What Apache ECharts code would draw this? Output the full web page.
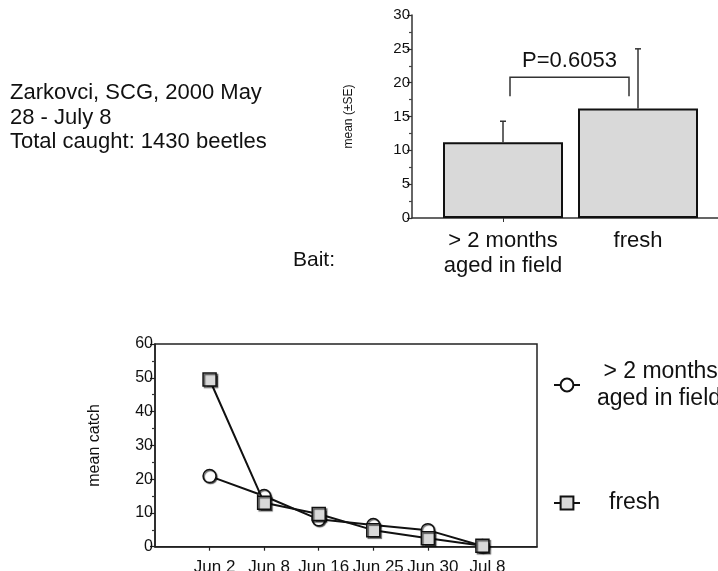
<!DOCTYPE html>
<html>
<head>
<meta charset="utf-8">
<script src="https://cdn.jsdelivr.net/npm/echarts@6/dist/echarts.min.js"></script>
<style>
html,body{margin:0;padding:0;background:#fff;}
#c{width:718px;height:571px;}
</style>
</head>
<body>
<div id="c"></div>
<script>
// ---- data ----
const titleLines = ['Zarkovci, SCG, 2000 May', '28 - July 8', 'Total caught: 1430 beetles'];
const baitLabel = 'Bait:';
const baitCategories = ['> 2 months\naged in field', 'fresh'];
const baitMeans = [11.2, 16.2];
const baitUpperSE = [14.3, 25.0];
const pLabel = 'P=0.6053';
const bracketTop = 20.8;
const bracketLegEnd = 18.0;
const barYTicks = [0, 30, 5];

const dates = ['Jun 2', 'Jun 8', 'Jun 16', 'Jun 25', 'Jun 30', 'Jul 8'];
const agedCatch = [20.9, 15.0, 8.1, 6.4, 4.9, 0.2];
const freshCatch = [49.5, 13.0, 9.7, 4.9, 2.5, 0.3];
const agedName = '> 2 months aged in field';
const freshName = 'fresh';
const lineYTicks = [0, 60, 10];

// ---- chart ----
const FONT = 'Liberation Sans, Arial, sans-serif';
const INK = '#111';
const chart = echarts.init(document.getElementById('c'), null, {renderer: 'canvas'});

const paddedDates = [''].concat(dates, ['']);
const pad = arr => ['-'].concat(arr, ['-']);

const errData = baitMeans.map((m, i) => [i, m, baitUpperSE[i]]);

const option = {
  backgroundColor: '#fff',
  animation: false,
  textStyle: {fontFamily: FONT, color: INK},
  title: [
    {text: titleLines.join('\n'), left: 10, top: 81, padding: 0,
     textStyle: {fontSize: 22, lineHeight: 24.5, fontWeight: 'normal', color: INK, fontFamily: FONT}},
    {text: baitLabel, left: 293, top: 248, padding: 0,
     textStyle: {fontSize: 21, lineHeight: 24, fontWeight: 'normal', color: INK, fontFamily: FONT}}
  ],
  grid: [
    {left: 412, top: 15, width: 306, height: 203, containLabel: false, outerBoundsMode: 'none'},
    {left: 435.5, top: 15, width: 270, height: 203, containLabel: false, outerBoundsMode: 'none'},
    {left: 155, top: 344, width: 382, height: 202.7, containLabel: false, outerBoundsMode: 'none',
     show: true, borderColor: '#222', borderWidth: 1.5, backgroundColor: 'transparent'}
  ],
  xAxis: [
    {gridIndex: 0, type: 'category', data: [''],
     axisLine: {show: true, lineStyle: {color: '#333', width: 1.5}},
     axisTick: {show: false}, axisLabel: {show: false}, splitLine: {show: false}},
    {gridIndex: 1, type: 'category', data: baitCategories,
     axisLine: {show: false},
     axisTick: {show: true, alignWithLabel: true, length: 4, interval: (i) => i === 0,
                lineStyle: {color: '#333', width: 1}},
     axisLabel: {fontSize: 22, lineHeight: 25, margin: 10, color: INK, fontFamily: FONT,
                 interval: 0, hideOverlap: false},
     splitLine: {show: false}},
    {gridIndex: 2, type: 'category', data: paddedDates, boundaryGap: false,
     axisLine: {show: true, lineStyle: {color: '#222', width: 1.5}},
     axisTick: {show: true, length: 4, interval: (i) => i > 0 && i < paddedDates.length - 1,
                lineStyle: {color: '#222', width: 1.2}},
     axisLabel: {fontSize: 17, margin: 12, color: INK, fontFamily: FONT, interval: 0,
                 hideOverlap: false, padding: [0, 0, 0, 10]},
     splitLine: {show: false}}
  ],
  yAxis: [
    {gridIndex: 0, type: 'value', min: barYTicks[0], max: barYTicks[1], interval: barYTicks[2],
     name: 'mean (±SE)', nameLocation: 'middle', nameGap: 57, nameRotate: 90,
     nameTextStyle: {fontSize: 12, color: INK, fontFamily: FONT},
     axisLine: {show: true, lineStyle: {color: '#333', width: 1.5}},
     axisTick: {show: true, length: 5, lineStyle: {color: '#333', width: 1.2}},
     minorTick: {show: true, splitNumber: 2, length: 3, lineStyle: {color: '#444', width: 1.2}},
     axisLabel: {fontSize: 15, margin: 2, color: INK, fontFamily: FONT},
     splitLine: {show: false}},
    {gridIndex: 1, type: 'value', min: barYTicks[0], max: barYTicks[1], interval: barYTicks[2],
     show: false},
    {gridIndex: 2, type: 'value', min: lineYTicks[0], max: lineYTicks[1], interval: lineYTicks[2],
     name: 'mean catch', nameLocation: 'middle', nameGap: 52, nameRotate: 90,
     nameTextStyle: {fontSize: 16, color: INK, fontFamily: FONT},
     axisLine: {show: true, lineStyle: {color: '#222', width: 1.5}},
     axisTick: {show: true, length: 5, lineStyle: {color: '#222', width: 1.2}},
     minorTick: {show: true, splitNumber: 2, length: 3, lineStyle: {color: '#333', width: 1.2}},
     axisLabel: {fontSize: 16, margin: 2, color: INK, fontFamily: FONT},
     splitLine: {show: false}}
  ],
  legend: [
    {data: [agedName], left: 553, top: 358, padding: 0, itemWidth: 26, itemHeight: 16,
     formatter: () => ' > 2 months\naged in field',
     textStyle: {fontSize: 23, lineHeight: 27, color: INK, fontFamily: FONT, padding: [0, 0, 0, 12]}},
    {data: [freshName], left: 553, top: 489.5, padding: 0, itemWidth: 26, itemHeight: 16,
     textStyle: {fontSize: 23, lineHeight: 27, color: INK, fontFamily: FONT, padding: [0, 0, 0, 24]}}
  ],
  series: [
    {type: 'bar', xAxisIndex: 1, yAxisIndex: 1, data: baitMeans, barWidth: 120,
     itemStyle: {color: '#d9d9d9', borderColor: '#111', borderWidth: 2}, z: 2},
    {type: 'custom', xAxisIndex: 1, yAxisIndex: 1, data: errData, z: 3,
     renderItem: function (params, api) {
       const x = api.value(0);
       const base = api.coord([x, api.value(1)]);
       const top = api.coord([x, api.value(2)]);
       const st = {stroke: '#333', lineWidth: 1.5};
       return {type: 'group', children: [
         {type: 'line', shape: {x1: base[0], y1: base[1], x2: top[0], y2: top[1]}, style: st},
         {type: 'line', shape: {x1: top[0] - 3, y1: top[1], x2: top[0] + 3, y2: top[1]}, style: st}
       ]};
     }},
    {type: 'custom', xAxisIndex: 1, yAxisIndex: 1, data: [[0, 1, bracketTop, bracketLegEnd]], z: 3,
     renderItem: function (params, api) {
       const a = api.coord([api.value(0), api.value(2)]);
       const b = api.coord([api.value(1), api.value(2)]);
       const legY = api.coord([api.value(0), api.value(3)])[1];
       const x1 = a[0] + 7, x2 = b[0] - 9, y = a[1];
       const st = {stroke: '#333', lineWidth: 1.5, fill: null};
       return {type: 'group', children: [
         {type: 'polyline', shape: {points: [[x1, legY], [x1, y], [x2, y], [x2, legY]]}, style: st},
         {type: 'text', style: {text: pLabel, x: (x1 + x2) / 2, y: y - 5, align: 'center',
           verticalAlign: 'bottom', fontSize: 22, fontFamily: FONT, fill: INK}}
       ]};
     }},
    {type: 'line', name: agedName, xAxisIndex: 2, yAxisIndex: 2, data: pad(agedCatch),
     symbol: 'circle', symbolSize: 13, showAllSymbol: true,
     lineStyle: {color: '#111', width: 2},
     itemStyle: {color: '#fff', borderColor: '#111', borderWidth: 1.5,
                 shadowColor: 'rgba(0,0,0,0.6)', shadowOffsetX: 1, shadowOffsetY: 1, shadowBlur: 1},
     z: 3},
    {type: 'line', name: freshName, xAxisIndex: 2, yAxisIndex: 2, data: pad(freshCatch),
     symbol: 'rect', symbolSize: 13, showAllSymbol: true,
     lineStyle: {color: '#111', width: 2},
     itemStyle: {color: '#d9d9d9', borderColor: '#111', borderWidth: 1.5,
                 shadowColor: 'rgba(0,0,0,0.6)', shadowOffsetX: 1.5, shadowOffsetY: 1.5, shadowBlur: 1},
     z: 4}
  ]
};
chart.setOption(option);
</script>
</body>
</html>
